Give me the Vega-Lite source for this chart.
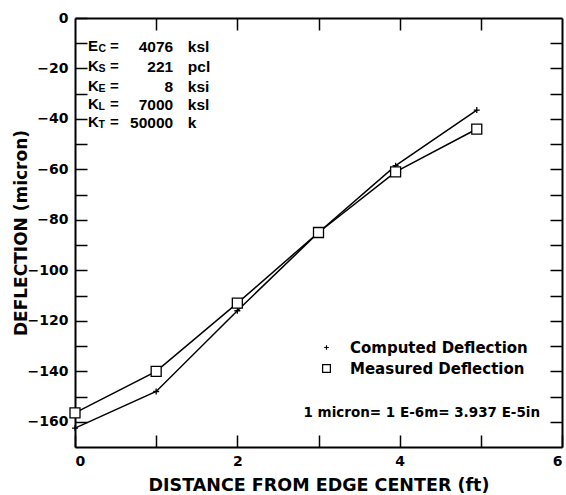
{
  "$schema": "https://vega.github.io/schema/vega-lite/v6.json",
  "autosize": "none",
  "padding": {"left": 75, "top": 18, "right": 4, "bottom": 48},
  "width": 487,
  "height": 429,
  "background": "white",
  "config": {
    "view": {"stroke": null},
    "axis": {
      "domainColor": "black", "domainWidth": 2, "tickColor": "black", "tickWidth": 1.5,
      "grid": false, "labelColor": "black", "titleColor": "black",
      "labelFont": "DejaVu Sans", "labelFontWeight": "bold", "labelFontSize": 14,
      "titleFont": "DejaVu Sans", "titleFontWeight": "bold"
    }
  },
  "datasets": {
    "series": [
      {"dist": 0, "defl": -162.5, "series": "Computed Deflection"},
      {"dist": 1, "defl": -148, "series": "Computed Deflection"},
      {"dist": 2, "defl": -116, "series": "Computed Deflection"},
      {"dist": 3, "defl": -85, "series": "Computed Deflection"},
      {"dist": 3.95, "defl": -58.5, "series": "Computed Deflection"},
      {"dist": 4.95, "defl": -36.5, "series": "Computed Deflection"},
      {"dist": 0, "defl": -156.5, "series": "Measured Deflection"},
      {"dist": 1, "defl": -140, "series": "Measured Deflection"},
      {"dist": 2, "defl": -113, "series": "Measured Deflection"},
      {"dist": 3, "defl": -85, "series": "Measured Deflection"},
      {"dist": 3.95, "defl": -61, "series": "Measured Deflection"},
      {"dist": 4.95, "defl": -44, "series": "Measured Deflection"}
    ],
    "params": [
      {"sym": "E", "sub": "C", "val": "4076", "unit": "ksl", "row": -11.2},
      {"sym": "K", "sub": "S", "val": "221", "unit": "pcl", "row": -19},
      {"sym": "K", "sub": "E", "val": "8", "unit": "ksi", "row": -26.8},
      {"sym": "K", "sub": "L", "val": "7000", "unit": "ksl", "row": -34.2},
      {"sym": "K", "sub": "T", "val": "50000", "unit": "k", "row": -41.2}
    ]
  },
  "resolve": {"axis": {"x": "independent", "y": "independent"}},
  "layer": [
    {
      "data": {"name": "series"},
      "mark": {"type": "line", "color": "black", "strokeWidth": 1.5},
      "encoding": {
        "x": {"field": "dist", "type": "quantitative", "scale": {"domain": [0, 6], "nice": false},
          "axis": {"orient": "bottom", "values": [0, 1, 2, 3, 4, 5, 6], "labelExpr": "datum.value % 2 == 0 ? datum.label : ''",
            "tickSize": -12, "labelPadding": 19, "title": "DISTANCE FROM EDGE CENTER (ft)", "titleFontSize": 17.5, "titlePadding": 8}},
        "y": {"field": "defl", "type": "quantitative", "scale": {"domain": [-170, 0], "nice": false},
          "axis": {"orient": "left", "values": [-160, -150, -140, -130, -120, -110, -100, -90, -80, -70, -60, -50, -40, -30, -20, -10, 0],
            "labelExpr": "datum.value % 20 == 0 ? datum.label : ''", "tickSize": -12, "labelPadding": 19,
            "title": "DEFLECTION (micron)", "titleFontSize": 17, "titlePadding": -3}},
        "detail": {"field": "series"}
      }
    },
    {
      "data": {"name": "series"},
      "mark": {"type": "point", "filled": false, "fill": "white", "color": "black", "stroke": "black", "strokeWidth": 1.3, "opacity": 1, "fillOpacity": 1, "size": 100},
      "encoding": {
        "x": {"field": "dist", "type": "quantitative",
          "axis": {"orient": "top", "values": [1, 2, 3, 4, 5], "labels": false, "tickSize": -12, "title": null}},
        "y": {"field": "defl", "type": "quantitative",
          "axis": {"orient": "right", "values": [-160, -150, -140, -130, -120, -110, -100, -90, -80, -70, -60, -50, -40, -30, -20, -10], "labels": false, "tickSize": -12, "title": null}},
        "shape": {"field": "series", "type": "nominal",
          "scale": {"domain": ["Computed Deflection", "Measured Deflection"], "range": ["M-0.6,0H0.6M0,-0.6V0.6", "square"]},
          "legend": {"title": null, "orient": "none", "legendX": 244, "legendY": 322, "labelFont": "DejaVu Sans", "labelFontWeight": "bold",
            "labelFontSize": 15, "labelColor": "black", "labelOffset": 16, "labelLimit": 400, "rowPadding": 5, "symbolOpacity": 1, "symbolStrokeWidth": 1.2, "symbolSize": 60}}
      }
    },
    {
      "data": {"name": "params"},
      "mark": {"type": "text", "font": "Liberation Sans", "fontWeight": "bold", "fontSize": 15, "align": "left", "baseline": "middle", "color": "black"},
      "encoding": {
        "x": {"datum": 0.16, "type": "quantitative", "axis": null},
        "y": {"field": "row", "type": "quantitative", "axis": null},
        "text": {"field": "sym"}
      }
    },
    {
      "data": {"name": "params"},
      "mark": {"type": "text", "font": "Liberation Sans", "fontWeight": "bold", "fontSize": 10.5, "align": "left", "baseline": "middle", "color": "black", "dx": 10.5, "dy": 3},
      "encoding": {
        "x": {"datum": 0.16, "type": "quantitative", "axis": null},
        "y": {"field": "row", "type": "quantitative", "axis": null},
        "text": {"field": "sub"}
      }
    },
    {
      "data": {"name": "params"},
      "mark": {"type": "text", "font": "Liberation Sans", "fontWeight": "bold", "fontSize": 15, "align": "left", "baseline": "middle", "color": "black", "text": "="},
      "encoding": {
        "x": {"datum": 0.43, "type": "quantitative", "axis": null},
        "y": {"field": "row", "type": "quantitative", "axis": null}
      }
    },
    {
      "data": {"name": "params"},
      "mark": {"type": "text", "font": "Liberation Sans", "fontWeight": "bold", "fontSize": 15.5, "align": "right", "baseline": "middle", "color": "black", "dy": 1},
      "encoding": {
        "x": {"datum": 1.21, "type": "quantitative", "axis": null},
        "y": {"field": "row", "type": "quantitative", "axis": null},
        "text": {"field": "val"}
      }
    },
    {
      "data": {"name": "params"},
      "mark": {"type": "text", "font": "Liberation Sans", "fontWeight": "bold", "fontSize": 15.5, "align": "left", "baseline": "middle", "color": "black", "dy": 1},
      "encoding": {
        "x": {"datum": 1.39, "type": "quantitative", "axis": null},
        "y": {"field": "row", "type": "quantitative", "axis": null},
        "text": {"field": "unit"}
      }
    },
    {
      "data": {"values": [{"note": "1 micron= 1 E-6m= 3.937 E-5in"}]},
      "mark": {"type": "text", "font": "DejaVu Sans", "fontWeight": "bold", "fontSize": 13.5, "align": "right", "baseline": "middle", "color": "black"},
      "encoding": {
        "x": {"datum": 5.73, "type": "quantitative", "axis": null},
        "y": {"datum": -156.4, "type": "quantitative", "axis": null},
        "text": {"field": "note"}
      }
    }
  ]
}
